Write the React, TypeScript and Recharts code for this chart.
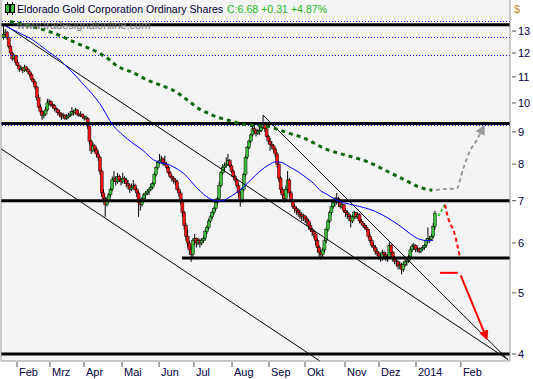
// Eldorado Gold daily candles with 50/200-day averages, trend lines and projection arrows
import { ComposedChart, Bar, Line, XAxis, YAxis, CartesianGrid, ReferenceLine } from 'recharts'

const FONT = '"Liberation Sans", Arial, sans-serif'

const title = 'Eldorado Gold Corporation Ordinary Shares'
const lastQuote = 'C:6.68 +0.31 +4.87%'
const watermark = 'www.tradesignalonline.com'

// [open, high, low, close] per trading day, Jan 2013 .. Jan 2014
const candles: [number, number, number, number][] = [
  [12.7, 13.3, 12.6, 12.85], [12.85, 13.1, 12.75, 12.95], [12.95, 13.0, 12.6, 12.7], [12.7, 12.75, 12.2, 12.3], [12.3, 12.35, 11.9, 12.0],
  [12.0, 12.05, 11.65, 11.75], [11.75, 11.95, 11.7, 11.9], [11.9, 11.92, 11.5, 11.6], [11.6, 11.7, 11.4, 11.45], [11.45, 11.5, 11.2, 11.3],
  [11.3, 11.45, 11.25, 11.35], [11.35, 11.4, 11.15, 11.25], [11.25, 11.5, 11.2, 11.4], [11.4, 11.45, 11.25, 11.3], [11.3, 11.35, 11.1, 11.2],
  [11.2, 11.25, 11.0, 11.1], [11.1, 11.15, 10.85, 10.9], [10.9, 10.95, 10.7, 10.8], [10.8, 10.85, 10.5, 10.6], [10.6, 10.65, 10.1, 10.2],
  [10.2, 10.3, 9.8, 9.85], [9.85, 9.95, 9.6, 9.7], [9.7, 9.75, 9.4, 9.55], [9.55, 9.7, 9.45, 9.6], [9.6, 9.85, 9.55, 9.75],
  [9.75, 10.15, 9.7, 10.0], [10.0, 10.15, 9.9, 10.05], [10.05, 10.1, 9.85, 9.95], [9.95, 10.0, 9.8, 9.9], [9.9, 9.95, 9.7, 9.8],
  [9.8, 9.85, 9.65, 9.75], [9.75, 9.8, 9.55, 9.65], [9.65, 9.75, 9.5, 9.6], [9.6, 9.65, 9.4, 9.5], [9.5, 9.65, 9.45, 9.55],
  [9.55, 9.6, 9.4, 9.45], [9.45, 9.6, 9.4, 9.5], [9.5, 9.65, 9.45, 9.55], [9.55, 9.7, 9.5, 9.6], [9.6, 9.85, 9.55, 9.7],
  [9.7, 9.75, 9.55, 9.65], [9.65, 9.82, 9.6, 9.75], [9.75, 9.78, 9.55, 9.6], [9.6, 9.65, 9.5, 9.55], [9.55, 9.7, 9.5, 9.6],
  [9.6, 9.62, 9.45, 9.5], [9.5, 9.55, 9.38, 9.45], [9.45, 9.55, 9.4, 9.5], [9.45, 9.5, 9.1, 9.2], [9.2, 9.22, 8.6, 8.7],
  [8.7, 8.75, 8.3, 8.4], [8.4, 8.65, 8.35, 8.55], [8.55, 8.6, 8.35, 8.45], [8.45, 8.5, 8.2, 8.3], [8.3, 8.4, 8.1, 8.2],
  [8.2, 8.25, 7.7, 7.8], [7.8, 7.85, 7.1, 7.2], [7.2, 7.3, 6.95, 7.05], [7.05, 7.1, 6.6, 6.9], [6.9, 7.1, 6.85, 7.0],
  [7.0, 7.2, 6.95, 7.15], [7.15, 7.35, 7.1, 7.3], [7.3, 7.65, 7.25, 7.55], [7.55, 7.8, 7.5, 7.6], [7.6, 7.65, 7.4, 7.5],
  [7.5, 7.75, 7.45, 7.65], [7.65, 7.7, 7.5, 7.55], [7.55, 7.6, 7.4, 7.5], [7.5, 7.75, 7.45, 7.6], [7.6, 7.65, 7.45, 7.55],
  [7.55, 7.6, 7.35, 7.45], [7.45, 7.55, 7.3, 7.4], [7.4, 7.45, 7.2, 7.3], [7.3, 7.45, 7.25, 7.35], [7.35, 7.55, 7.3, 7.4],
  [7.4, 7.45, 7.25, 7.3], [7.3, 7.35, 7.1, 7.2], [7.2, 7.25, 6.6, 6.95], [6.95, 7.0, 6.75, 6.9], [6.9, 7.1, 6.85, 7.05],
  [7.05, 7.2, 7.0, 7.15], [7.15, 7.25, 7.05, 7.2], [7.2, 7.3, 7.15, 7.25], [7.25, 7.35, 7.15, 7.3], [7.3, 7.45, 7.25, 7.35],
  [7.35, 7.5, 7.3, 7.45], [7.45, 7.75, 7.4, 7.7], [7.7, 7.95, 7.65, 7.9], [7.9, 8.1, 7.85, 8.05], [8.05, 8.3, 8.0, 8.1],
  [8.1, 8.25, 8.0, 8.15], [8.15, 8.2, 7.95, 8.05], [8.05, 8.25, 7.95, 8.0], [8.0, 8.05, 7.85, 7.9], [7.9, 7.95, 7.7, 7.75],
  [7.75, 7.8, 7.6, 7.65], [7.65, 7.7, 7.5, 7.6], [7.6, 7.65, 7.45, 7.55], [7.55, 7.6, 7.4, 7.5], [7.5, 7.55, 7.25, 7.3],
  [7.3, 7.35, 7.1, 7.2], [7.2, 7.25, 6.9, 7.0], [7.0, 7.05, 6.6, 6.7], [6.7, 6.75, 6.3, 6.4], [6.4, 6.45, 6.05, 6.15],
  [6.15, 6.3, 5.9, 6.0], [6.0, 6.05, 5.75, 5.85], [5.85, 5.95, 5.6, 5.75], [5.75, 6.1, 5.7, 6.05], [6.05, 6.2, 5.95, 6.1],
  [6.1, 6.12, 5.9, 6.0], [6.0, 6.1, 5.95, 6.05], [6.05, 6.1, 5.9, 6.0], [6.0, 6.1, 5.95, 6.05], [6.05, 6.15, 6.0, 6.1],
  [6.1, 6.3, 6.05, 6.25], [6.25, 6.4, 6.2, 6.35], [6.35, 6.55, 6.3, 6.5], [6.5, 6.65, 6.45, 6.6], [6.6, 6.75, 6.55, 6.7],
  [6.7, 6.85, 6.65, 6.8], [6.8, 7.0, 6.75, 6.95], [6.95, 7.1, 6.9, 7.05], [7.05, 7.5, 7.0, 7.4], [7.4, 7.8, 7.35, 7.75],
  [7.75, 8.0, 7.7, 7.9], [7.9, 8.05, 7.8, 7.95], [7.95, 8.2, 7.9, 8.0], [8.0, 8.3, 7.95, 8.1], [8.1, 8.15, 7.9, 7.95],
  [7.95, 8.0, 7.75, 7.8], [7.8, 7.85, 7.6, 7.65], [7.65, 7.7, 7.5, 7.55], [7.55, 7.6, 7.35, 7.4], [7.4, 7.45, 7.1, 7.2],
  [7.2, 7.25, 6.85, 7.0], [7.0, 7.35, 6.95, 7.3], [7.3, 7.75, 7.25, 7.7], [7.7, 8.25, 7.65, 8.2], [8.2, 8.55, 8.15, 8.5],
  [8.5, 8.75, 8.45, 8.7], [8.7, 8.95, 8.65, 8.9], [8.9, 9.3, 8.85, 9.1], [9.1, 9.2, 8.95, 9.05], [9.05, 9.1, 8.85, 8.95],
  [8.95, 9.1, 8.9, 9.0], [9.0, 9.15, 8.9, 9.05], [9.05, 9.3, 9.0, 9.15], [9.15, 9.55, 9.1, 9.25], [9.25, 9.3, 9.0, 9.1],
  [9.1, 9.15, 8.8, 8.85], [8.85, 8.9, 8.6, 8.7], [8.7, 8.8, 8.4, 8.6], [8.6, 8.7, 8.45, 8.55], [8.55, 8.6, 8.35, 8.45],
  [8.45, 8.5, 8.2, 8.3], [8.3, 8.35, 7.9, 8.0], [8.0, 8.05, 7.5, 7.6], [7.6, 7.65, 7.2, 7.3], [7.3, 7.35, 7.05, 7.15],
  [7.15, 7.2, 6.95, 7.05], [7.05, 7.4, 7.0, 7.3], [7.3, 7.8, 7.25, 7.55], [7.55, 7.6, 7.1, 7.2], [7.2, 7.25, 6.95, 7.0],
  [7.0, 7.05, 6.8, 6.85], [6.85, 6.9, 6.7, 6.8], [6.8, 6.85, 6.65, 6.75], [6.75, 6.8, 6.6, 6.7], [6.7, 6.78, 6.55, 6.65],
  [6.65, 6.7, 6.5, 6.6], [6.6, 6.68, 6.5, 6.62], [6.62, 6.65, 6.45, 6.55], [6.55, 6.6, 6.4, 6.5], [6.5, 6.55, 6.3, 6.4],
  [6.4, 6.45, 6.25, 6.3], [6.3, 6.35, 6.15, 6.25], [6.25, 6.3, 6.1, 6.2], [6.2, 6.22, 5.95, 6.05], [6.05, 6.1, 5.8, 5.9],
  [5.9, 5.95, 5.7, 5.8], [5.8, 5.85, 5.65, 5.75], [5.75, 5.9, 5.7, 5.85], [5.85, 6.1, 5.8, 6.05], [6.05, 6.35, 6.0, 6.3],
  [6.3, 6.55, 6.25, 6.5], [6.5, 6.75, 6.45, 6.7], [6.7, 6.9, 6.65, 6.85], [6.85, 7.0, 6.8, 6.95], [6.95, 7.1, 6.85, 7.0],
  [7.0, 7.2, 6.9, 7.05], [7.05, 7.1, 6.85, 6.95], [6.95, 7.0, 6.8, 6.85], [6.85, 6.95, 6.8, 6.9], [6.9, 6.92, 6.7, 6.75],
  [6.75, 6.8, 6.6, 6.7], [6.7, 6.75, 6.55, 6.65], [6.65, 6.7, 6.5, 6.6], [6.6, 6.65, 6.35, 6.5], [6.5, 6.65, 6.45, 6.6],
  [6.6, 6.75, 6.55, 6.7], [6.7, 6.72, 6.55, 6.6], [6.6, 6.7, 6.55, 6.65], [6.65, 6.68, 6.45, 6.5], [6.5, 6.55, 6.4, 6.45],
  [6.45, 6.5, 6.35, 6.4], [6.4, 6.45, 6.3, 6.35], [6.35, 6.4, 6.25, 6.3], [6.3, 6.32, 6.1, 6.15], [6.15, 6.2, 6.0, 6.05],
  [6.05, 6.1, 5.9, 5.95], [5.95, 6.0, 5.85, 5.9], [5.9, 5.95, 5.75, 5.82], [5.82, 5.88, 5.72, 5.78], [5.78, 5.82, 5.65, 5.72],
  [5.72, 5.78, 5.6, 5.68], [5.68, 5.85, 5.62, 5.8], [5.8, 5.82, 5.65, 5.75], [5.75, 5.8, 5.62, 5.72], [5.72, 5.75, 5.6, 5.7],
  [5.7, 6.02, 5.68, 5.95], [5.95, 5.97, 5.75, 5.8], [5.8, 5.82, 5.6, 5.68], [5.68, 5.72, 5.55, 5.62], [5.62, 5.7, 5.5, 5.6],
  [5.6, 5.62, 5.45, 5.52], [5.52, 5.6, 5.45, 5.55], [5.55, 5.58, 5.35, 5.45], [5.45, 5.6, 5.4, 5.55], [5.55, 5.65, 5.5, 5.6],
  [5.6, 5.68, 5.52, 5.62], [5.62, 5.75, 5.58, 5.7], [5.7, 5.9, 5.65, 5.85], [5.85, 5.98, 5.8, 5.92], [5.92, 6.0, 5.85, 5.95],
  [5.95, 5.97, 5.8, 5.85], [5.85, 5.92, 5.8, 5.88], [5.88, 5.9, 5.78, 5.82], [5.82, 5.9, 5.78, 5.87], [5.87, 5.95, 5.83, 5.9],
  [5.9, 5.98, 5.85, 5.95], [5.95, 6.1, 5.9, 6.05], [6.05, 6.35, 6.0, 6.1], [6.1, 6.15, 6.0, 6.08], [6.08, 6.2, 6.05, 6.15],
  [6.15, 6.45, 6.1, 6.37], [6.37, 6.75, 6.3, 6.68],
]

// x axis = trading-day index; month starts
const monthTickIdx = [7.7, 26.5, 45.9, 67.6, 88.7, 108.6, 130.3, 151.4, 171.9, 194.7, 214.1, 235.2, 260.8]
const monthLabels = ['Feb', 'Mrz', 'Apr', 'Mai', 'Jun', 'Jul', 'Aug', 'Sep', 'Okt', 'Nov', 'Dez', '2014', 'Feb']
const priceTicks = [4, 5, 6, 7, 8, 9, 10, 11, 12, 13]

// [day index, price]
const ma50: [number, number][] = [
  [0.9, 13.25], [8, 12.95], [16.8, 12.58], [24, 12.15], [32.2, 11.69], [39, 11.2], [45.3, 10.72], [55, 9.97],
  [62.4, 9.22], [68, 8.9], [73.8, 8.63], [79.5, 8.41], [85.4, 8.13], [95.3, 7.96], [103, 7.72], [111, 7.3],
  [117, 7.07], [121, 7.0], [125, 7.0], [128, 7.07], [132, 7.18], [136.6, 7.35], [141, 7.55], [146.3, 7.8],
  [151, 7.97], [155.8, 8.07], [159.5, 8.03], [163.4, 7.91], [168, 7.78], [173, 7.6], [177, 7.45], [180.5, 7.27],
  [185, 7.15], [188.5, 7.05], [194, 6.95], [200.4, 6.88], [206, 6.82], [212, 6.73], [220, 6.55], [227.6, 6.34],
  [232, 6.2], [237.3, 6.08], [242, 6.05], [245, 6.06],
]
const ma200: [number, number][] = [
  [3.7, 13.46], [9.4, 13.37], [16.8, 13.2], [28.2, 12.92], [41.9, 12.43], [55.3, 11.96], [60.2, 11.72], [64.7, 11.45],
  [73.8, 11.17], [81.8, 10.88], [91.5, 10.62], [96, 10.5], [105, 10.1], [112, 9.77], [116.8, 9.63], [121.6, 9.5],
  [126.3, 9.42], [131, 9.34], [135.8, 9.26], [140.5, 9.22], [146.2, 9.2], [151, 9.18], [155.8, 9.09], [163, 8.95],
  [170.3, 8.82], [184.3, 8.44], [197.5, 8.23], [207, 8.08], [216.5, 7.85], [226, 7.62], [239.4, 7.32], [244.5, 7.27],
]

// projections drawn on the right
const bullPath: [number, number][] = [[246.5, 7.28], [250, 7.3], [258.4, 7.32], [262.2, 7.88], [266, 8.4], [269.8, 8.73], [272.3, 9.0]]
const bounceUp: [number, number][] = [[247.9, 6.62], [251.7, 6.9]]
const bounceDown: [number, number][] = [[251.7, 6.9], [253.6, 6.56], [256.9, 6.24], [260.3, 5.69]]
const targetFlat: [number, number][] = [[248.9, 5.38], [259.1, 5.38]]
const targetDrop: [number, number][] = [[260.7, 5.33], [274.2, 4.32]]

const thickLevels = [13.3, 9.28, 7.0, 4.0]
const dottedLevels = [13.45, 12.7, 11.87, 9.21]
const necklineStart = 101.8
const necklineLevel = 5.68
const trendLines: [number, number][][] = [
  [[0.86, 13.29], [287.6, 3.92]],
  [[-1.43, 8.46], [180.4, 3.9]],
  [[147.9, 9.57], [287.6, 3.92]],
]

const rows = candles.map(([o, h, l, c], i) => ({ i, o, h, l, c, range: [l, h] }))
const toRows = (pts: [number, number][]) => pts.map(([i, v]) => ({ i, v }))

function Candle(props: any) {
  const { x, y, width, height, payload } = props
  if (x == null || y == null) return null
  const top = Math.min(y, y + height)
  const span = Math.abs(height)
  const cx = x + width / 2
  const lh = Math.log(payload.h)
  const ll = Math.log(payload.l)
  const yOf = (v: number) => (lh === ll ? top : top + (span * (lh - Math.log(v))) / (lh - ll))
  const yo = yOf(payload.o)
  const yc = yOf(payload.c)
  const up = payload.c >= payload.o
  return (
    <g>
      <line x1={cx} x2={cx} y1={top} y2={top + span} stroke="#000" strokeWidth={1} />
      <rect
        x={cx - 1.5}
        y={Math.min(yo, yc)}
        width={3}
        height={Math.max(Math.abs(yc - yo), 1)}
        fill={up ? '#3cbc3c' : '#f41414'}
        stroke="#000"
        strokeWidth={0.45}
      />
    </g>
  )
}

function MonthTick({ x, y, payload }: any) {
  const label = monthLabels[monthTickIdx.indexOf(payload.value)]
  return (
    <g>
      <line x1={x} x2={x} y1={y - 7} y2={y - 2} stroke="#555" />
      <text x={x + 2} y={y + 7} fontSize={11} fontFamily={FONT} fill="#000040">{label}</text>
    </g>
  )
}

function PriceTick({ x, y, payload }: any) {
  return (
    <g>
      <line x1={x - 6} x2={x - 2} y1={y} y2={y} stroke="#555" />
      <text x={x} y={y + 4} fontSize={11} fontFamily={FONT} fill="#000040">{payload.value}</text>
    </g>
  )
}

export default function App() {
  return (
    <div style={{ position: 'absolute', left: 0, top: 0, width: 533, height: 379, background: '#fff' }}>
      <svg width={0} height={0} style={{ position: 'absolute' }}>
        <defs>
          <marker id="headRed" markerUnits="userSpaceOnUse" markerWidth={10} markerHeight={10} viewBox="0 0 10 10" refX={2} refY={5} orient="auto">
            <path d="M0,0 L10,5 L0,10 z" fill="#ff0000" />
          </marker>
          <marker id="headGray" markerUnits="userSpaceOnUse" markerWidth={10} markerHeight={10} viewBox="0 0 10 10" refX={2} refY={5} orient="auto">
            <path d="M0,0 L10,5 L0,10 z" fill="#9a9a9a" />
          </marker>
        </defs>
      </svg>
      <ComposedChart width={533} height={379} data={rows} margin={{ top: 0, right: 0, bottom: 0, left: 0 }}>
        <CartesianGrid yAxisId="p" fill="#f4f4f4" horizontal={false} vertical={false} />
        <XAxis
          dataKey="i"
          type="number"
          domain={[-1.43, 288.8]}
          allowDataOverflow
          ticks={monthTickIdx}
          interval={0}
          height={18}
          tickSize={6}
          tickMargin={2}
          tickLine={false}
          axisLine={{ stroke: '#999' }}
          tick={<MonthTick />}
        />
        <YAxis yAxisId="l" orientation="left" width={1} tick={false} tickLine={false} axisLine={{ stroke: '#999' }} />
        <YAxis
          yAxisId="p"
          orientation="right"
          scale="log"
          domain={[3.9, 14.56]}
          allowDataOverflow
          ticks={priceTicks}
          interval={0}
          width={23}
          tickSize={6}
          tickMargin={2}
          tickLine={false}
          axisLine={{ stroke: '#999' }}
          tick={<PriceTick />}
        />

        {dottedLevels.map(v => (
          <ReferenceLine key={'d' + v} yAxisId="p" y={v} stroke="#0000ff" strokeDasharray="1 2" strokeWidth={1} shapeRendering="crispEdges" />
        ))}
        {thickLevels.map(v => (
          <ReferenceLine key={'t' + v} yAxisId="p" y={v} stroke="#000" strokeWidth={3} />
        ))}
        <ReferenceLine
          yAxisId="p"
          segment={[{ x: necklineStart, y: necklineLevel }, { x: 288.8, y: necklineLevel }]}
          stroke="#000"
          strokeWidth={3}
          ifOverflow="visible"
        />
        {trendLines.map((seg, k) => (
          <ReferenceLine
            key={'tl' + k}
            yAxisId="p"
            segment={seg.map(([x, y]) => ({ x, y }))}
            stroke="#000"
            strokeWidth={1}
            ifOverflow="visible"
          />
        ))}

        <Bar yAxisId="p" dataKey="range" barSize={3} shape={<Candle />} isAnimationActive={false} />

        <Line yAxisId="p" data={toRows(ma50)} dataKey="v" type="monotone" stroke="#0000ff" strokeWidth={1} dot={false} isAnimationActive={false} />
        <Line yAxisId="p" data={toRows(ma200)} dataKey="v" type="monotone" stroke="#0d650d" strokeWidth={3} strokeDasharray="4 4" dot={false} isAnimationActive={false} />
        <Line yAxisId="p" data={toRows(bullPath)} dataKey="v" type="monotone" stroke="#9a9a9a" strokeWidth={2} strokeDasharray="4 3" dot={false} markerEnd="url(#headGray)" isAnimationActive={false} />
        <Line yAxisId="p" data={toRows(bounceUp)} dataKey="v" type="linear" stroke="#33cc33" strokeWidth={2} strokeDasharray="3 2" dot={false} isAnimationActive={false} />
        <Line yAxisId="p" data={toRows(bounceDown)} dataKey="v" type="monotone" stroke="#ff0000" strokeWidth={2} strokeDasharray="4 3" dot={false} isAnimationActive={false} />
        <Line yAxisId="p" data={toRows(targetFlat)} dataKey="v" type="linear" stroke="#ff0000" strokeWidth={2} dot={false} isAnimationActive={false} />
        <Line yAxisId="p" data={toRows(targetDrop)} dataKey="v" type="linear" stroke="#ff0000" strokeWidth={2} dot={false} markerEnd="url(#headRed)" isAnimationActive={false} />
      </ComposedChart>

      <svg width={533} height={379} style={{ position: 'absolute', left: 0, top: 0, pointerEvents: 'none' }}>
        <line x1={7.5} x2={7.5} y1={2} y2={15} stroke="#000" />
        <rect x={5.5} y={4.5} width={4} height={8} fill="#3cbc3c" stroke="#000" />
        <line x1={12.5} x2={12.5} y1={2} y2={15} stroke="#000" />
        <rect x={10.5} y={4.5} width={4} height={8} fill="#3cbc3c" stroke="#000" />
        <text x={17} y={13} fontSize={10.6} fontFamily={FONT} fill="#000033">{title}</text>
        <text x={227} y={13} fontSize={10.6} fontFamily={FONT} fill="#22bb22">{lastQuote}</text>
        <text x={17} y={29} fontSize={11} fontFamily={FONT} fill="#707070">{watermark}</text>
        <text x={514} y={13} fontSize={11} fontFamily={FONT} fill="#c8862a">$</text>
      </svg>
    </div>
  )
}
